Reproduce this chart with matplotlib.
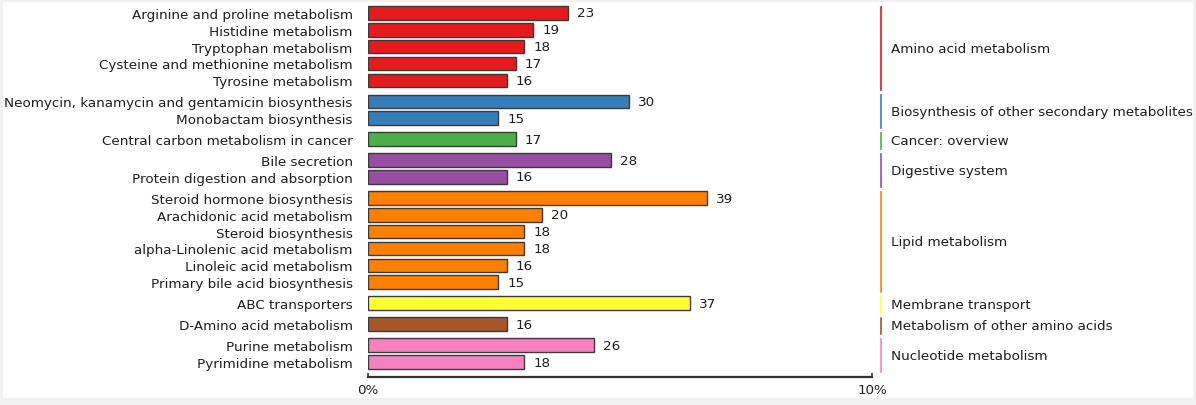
import matplotlib
matplotlib.use("Agg")
import matplotlib.pyplot as plt
import matplotlib.transforms as mtransforms
from matplotlib.patches import Rectangle

# ---------------- data ----------------
pathways = [
    "Arginine and proline metabolism", "Histidine metabolism", "Tryptophan metabolism",
    "Cysteine and methionine metabolism", "Tyrosine metabolism",
    "Neomycin, kanamycin and gentamicin biosynthesis", "Monobactam biosynthesis",
    "Central carbon metabolism in cancer",
    "Bile secretion", "Protein digestion and absorption",
    "Steroid hormone biosynthesis", "Arachidonic acid metabolism", "Steroid biosynthesis",
    "alpha-Linolenic acid metabolism", "Linoleic acid metabolism", "Primary bile acid biosynthesis",
    "ABC transporters",
    "D-Amino acid metabolism",
    "Purine metabolism", "Pyrimidine metabolism",
]
counts = [23, 19, 18, 17, 16, 30, 15, 17, 28, 16, 39, 20, 18, 18, 16, 15, 37, 16, 26, 18]
categories = [
    "Amino acid metabolism", "Biosynthesis of other secondary metabolites", "Cancer: overview",
    "Digestive system", "Lipid metabolism", "Membrane transport",
    "Metabolism of other amino acids", "Nucleotide metabolism",
]
category_sizes = [5, 2, 1, 2, 6, 1, 1, 2]
category_colors = ["#E41A1C", "#377EB8", "#4DAF4A", "#984EA3",
                   "#FF7F00", "#FFFF33", "#A65628", "#F781BF"]
total_genes = 580
x_ticks = [0, 10]
x_tick_labels = ["0%", "10%"]

# ---------------- layout ----------------
W, H = 1196, 406
fig = plt.figure(figsize=(W / 100, H / 100), dpi=100)
fig.patch.set_facecolor("#f1f1f1")
bg = Rectangle((3 / W, 7 / H), 1190 / W, 396 / H, transform=fig.transFigure,
               facecolor="white", edgecolor="none", zorder=-10)
fig.patches.append(bg)

ax_left, ax_right = 368, 872
ax_bottom_px = 28.3
ax = fig.add_axes([ax_left / W, ax_bottom_px / H, (ax_right - ax_left) / W, (H - ax_bottom_px) / H])
ax.set_facecolor("none")
ax.set_zorder(1)

# y positions: step 1 inside group, 1.25 between groups
ypos, bar_colors, group_spans = [], [], []
y = 0.0
for gi, size in enumerate(category_sizes):
    start = y
    for k in range(size):
        ypos.append(y)
        bar_colors.append(category_colors[gi])
        if k < size - 1:
            y += 1.0
    group_spans.append((start, y))
    y += 1.25

perc = [c / total_genes * 100 for c in counts]
ax.barh(ypos, perc, height=0.8, color=bar_colors, edgecolor="#3a3a3a", linewidth=1.0, zorder=3)

fs = 9.7
tc = "#1e1e1e"
for yy, p, c in zip(ypos, perc, counts):
    ax.annotate(str(c), xy=(p, yy), xytext=(6.5, 0), textcoords="offset points",
                va="center", ha="left", fontsize=fs, color=tc)

ax.set_yticks(ypos)
ax.set_yticklabels(pathways, fontsize=fs, color=tc)
ax.tick_params(axis="y", length=0, pad=11)

last = ypos[-1]
ax.set_ylim(last + 14.7 / 16.82, -14 / 16.82)
ax.set_xlim(0, 10)
ax.set_xticks(x_ticks)
ax.set_xticklabels(x_tick_labels, fontsize=fs, color=tc)
ax.tick_params(axis="x", direction="in", length=3, width=1.2, color="#333333", pad=4.5)

for s in ["top", "right", "left"]:
    ax.spines[s].set_visible(False)
ax.spines["bottom"].set_linewidth(1.6)
ax.spines["bottom"].set_color("#333333")

# category brackets on the right
trans = mtransforms.blended_transform_factory(ax.transAxes, ax.transData)
line_x = (881 - ax_left) / (ax_right - ax_left)
text_x = (891 - ax_left) / (ax_right - ax_left)
for (a, b), name, col in zip(group_spans, categories, category_colors):
    y0, y1 = a - 0.37, b + 0.58
    ax.plot([line_x, line_x], [y0, y1], transform=trans, color=col, lw=1.2, clip_on=False)
    ax.text(text_x, (y0 + y1) / 2, name, transform=trans, va="center", ha="left",
            fontsize=fs, color=tc, clip_on=False)

fig.savefig("out.png", dpi=100, facecolor=fig.get_facecolor())
